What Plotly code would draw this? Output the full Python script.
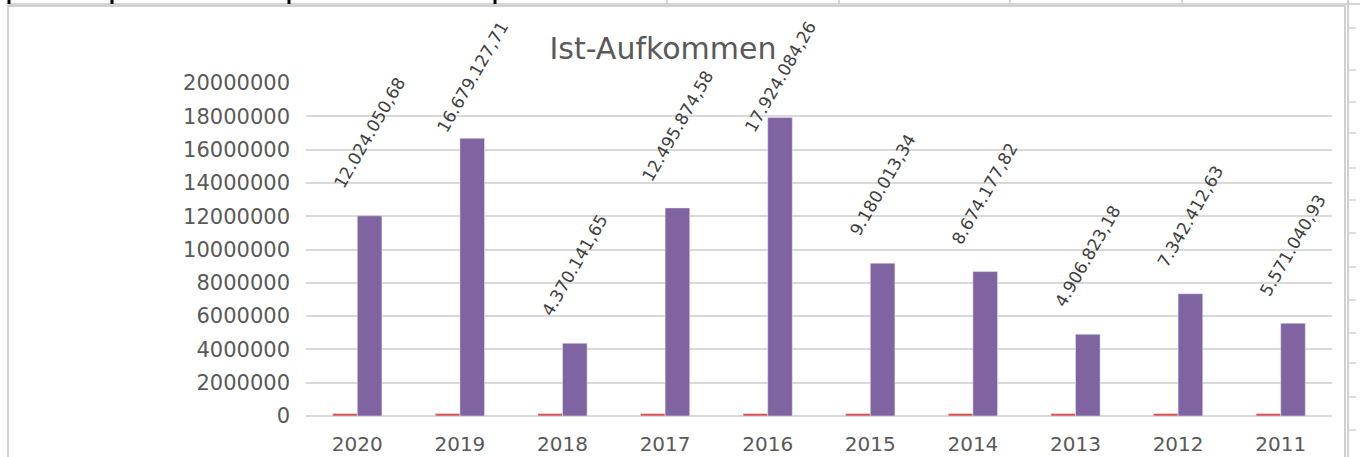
import plotly.graph_objects as go

years = ["2020", "2019", "2018", "2017", "2016", "2015", "2014", "2013", "2012", "2011"]
ist = [12024050.68, 16679127.71, 4370141.65, 12495874.58, 17924084.26,
       9180013.34, 8674177.82, 4906823.18, 7342412.63, 5571040.93]
ist_labels = ["12.024.050,68", "16.679.127,71", "4.370.141,65", "12.495.874,58", "17.924.084,26",
              "9.180.013,34", "8.674.177,82", "4.906.823,18", "7.342.412,63", "5.571.040,93"]
small = [150000, 150000, 150000, 150000, 150000, 150000, 150000, 150000, 150000, 150000]
yticks = [0, 2000000, 4000000, 6000000, 8000000, 10000000, 12000000,
          14000000, 16000000, 18000000, 20000000]

W, H = 1360, 457
L, R, T, B = 306, 28, 83, 41
YMAX = 20000000
plot_w = W - L - R
plot_h = H - T - B
FONT = "DejaVu Sans"
GREY = "#595959"

fig = go.Figure()
fig.add_trace(go.Bar(x=years, y=small, marker=dict(color="#d9534f"), name="Soll"))
fig.add_trace(go.Bar(x=years, y=ist, marker=dict(color="#8064a2"), name="Ist"))

bargap = 0.52
cat_w = plot_w / len(years)
bar_w = cat_w * (1 - bargap) / 2

annotations = []
for i, (v, lab) in enumerate(zip(ist, ist_labels)):
    bar_top_px = T + (1 - v / YMAX) * plot_h
    desired_bottom = max(bar_top_px - 21, 138)   # keep label inside chart area
    yshift = bar_top_px - desired_bottom
    annotations.append(dict(
        x=i, y=v, xref="x", yref="y", text=lab, showarrow=False,
        textangle=-60, xanchor="center", yanchor="bottom",
        xshift=bar_w / 2, yshift=yshift,
        font=dict(family=FONT, size=17, color="#404040")))

def px2x(px):
    return (px - L) / plot_w

def py2y(py):
    return (H - B - py) / plot_h

shapes = []
# chart area border
shapes.append(dict(type="rect", xref="paper", yref="paper",
                   x0=px2x(8), x1=px2x(1345), y0=py2y(460), y1=py2y(6),
                   line=dict(color="#d0d0d0", width=2), layer="below"))
# spreadsheet strip at top
shapes.append(dict(type="line", xref="paper", yref="paper",
                   x0=px2x(8), x1=px2x(1360), y0=py2y(4), y1=py2y(4),
                   line=dict(color="#c8c8c8", width=1.5)))
for bx in [9, 112, 289, 495]:
    shapes.append(dict(type="line", xref="paper", yref="paper",
                       x0=px2x(bx), x1=px2x(bx), y0=py2y(0), y1=py2y(4),
                       line=dict(color="#000000", width=3)))
for gx in [667, 839, 1010, 1182]:
    shapes.append(dict(type="line", xref="paper", yref="paper",
                       x0=px2x(gx), x1=px2x(gx), y0=py2y(0), y1=py2y(4),
                       line=dict(color="#c8c8c8", width=1.5)))
# spreadsheet cells at right
shapes.append(dict(type="line", xref="paper", yref="paper",
                   x0=px2x(1348), x1=px2x(1348), y0=py2y(0), y1=py2y(457),
                   line=dict(color="#d0d0d0", width=2)))
for ry in [28, 70, 102, 133, 168, 200, 233, 267, 300, 333, 363, 397, 430]:
    shapes.append(dict(type="line", xref="paper", yref="paper",
                       x0=px2x(1348), x1=px2x(1356), y0=py2y(ry), y1=py2y(ry),
                       line=dict(color="#d0d0d0", width=1.5)))

fig.update_layout(
    width=W, height=H,
    margin=dict(l=L, r=R, t=T, b=B, pad=0),
    paper_bgcolor="white", plot_bgcolor="white",
    barmode="group", bargap=bargap, bargroupgap=0,
    showlegend=False,
    title=dict(text="Ist-Aufkommen", x=663 / W, xanchor="center",
               y=1 - 48 / H, yanchor="middle",
               font=dict(family=FONT, size=30, color=GREY)),
    xaxis=dict(type="category", range=[-0.5, len(years) - 0.5], autorange=False,
               showgrid=False, showline=False, ticks="", ticklabelstandoff=14,
               automargin=False,
               tickfont=dict(family=FONT, size=20, color=GREY)),
    yaxis=dict(range=[0, YMAX], tickvals=yticks, ticktext=[str(t) for t in yticks],
               showgrid=True, gridcolor="#d9d9d9", gridwidth=1.5, zeroline=True,
               zerolinecolor="#d9d9d9", zerolinewidth=1.5,
               ticks="", ticklabelstandoff=15, automargin=False,
               tickfont=dict(family=FONT, size=21, color=GREY)),
    annotations=annotations, shapes=shapes,
)

fig.write_html("out.html", config={"displayModeBar": False},
               post_script="document.body.style.margin='0px';")
